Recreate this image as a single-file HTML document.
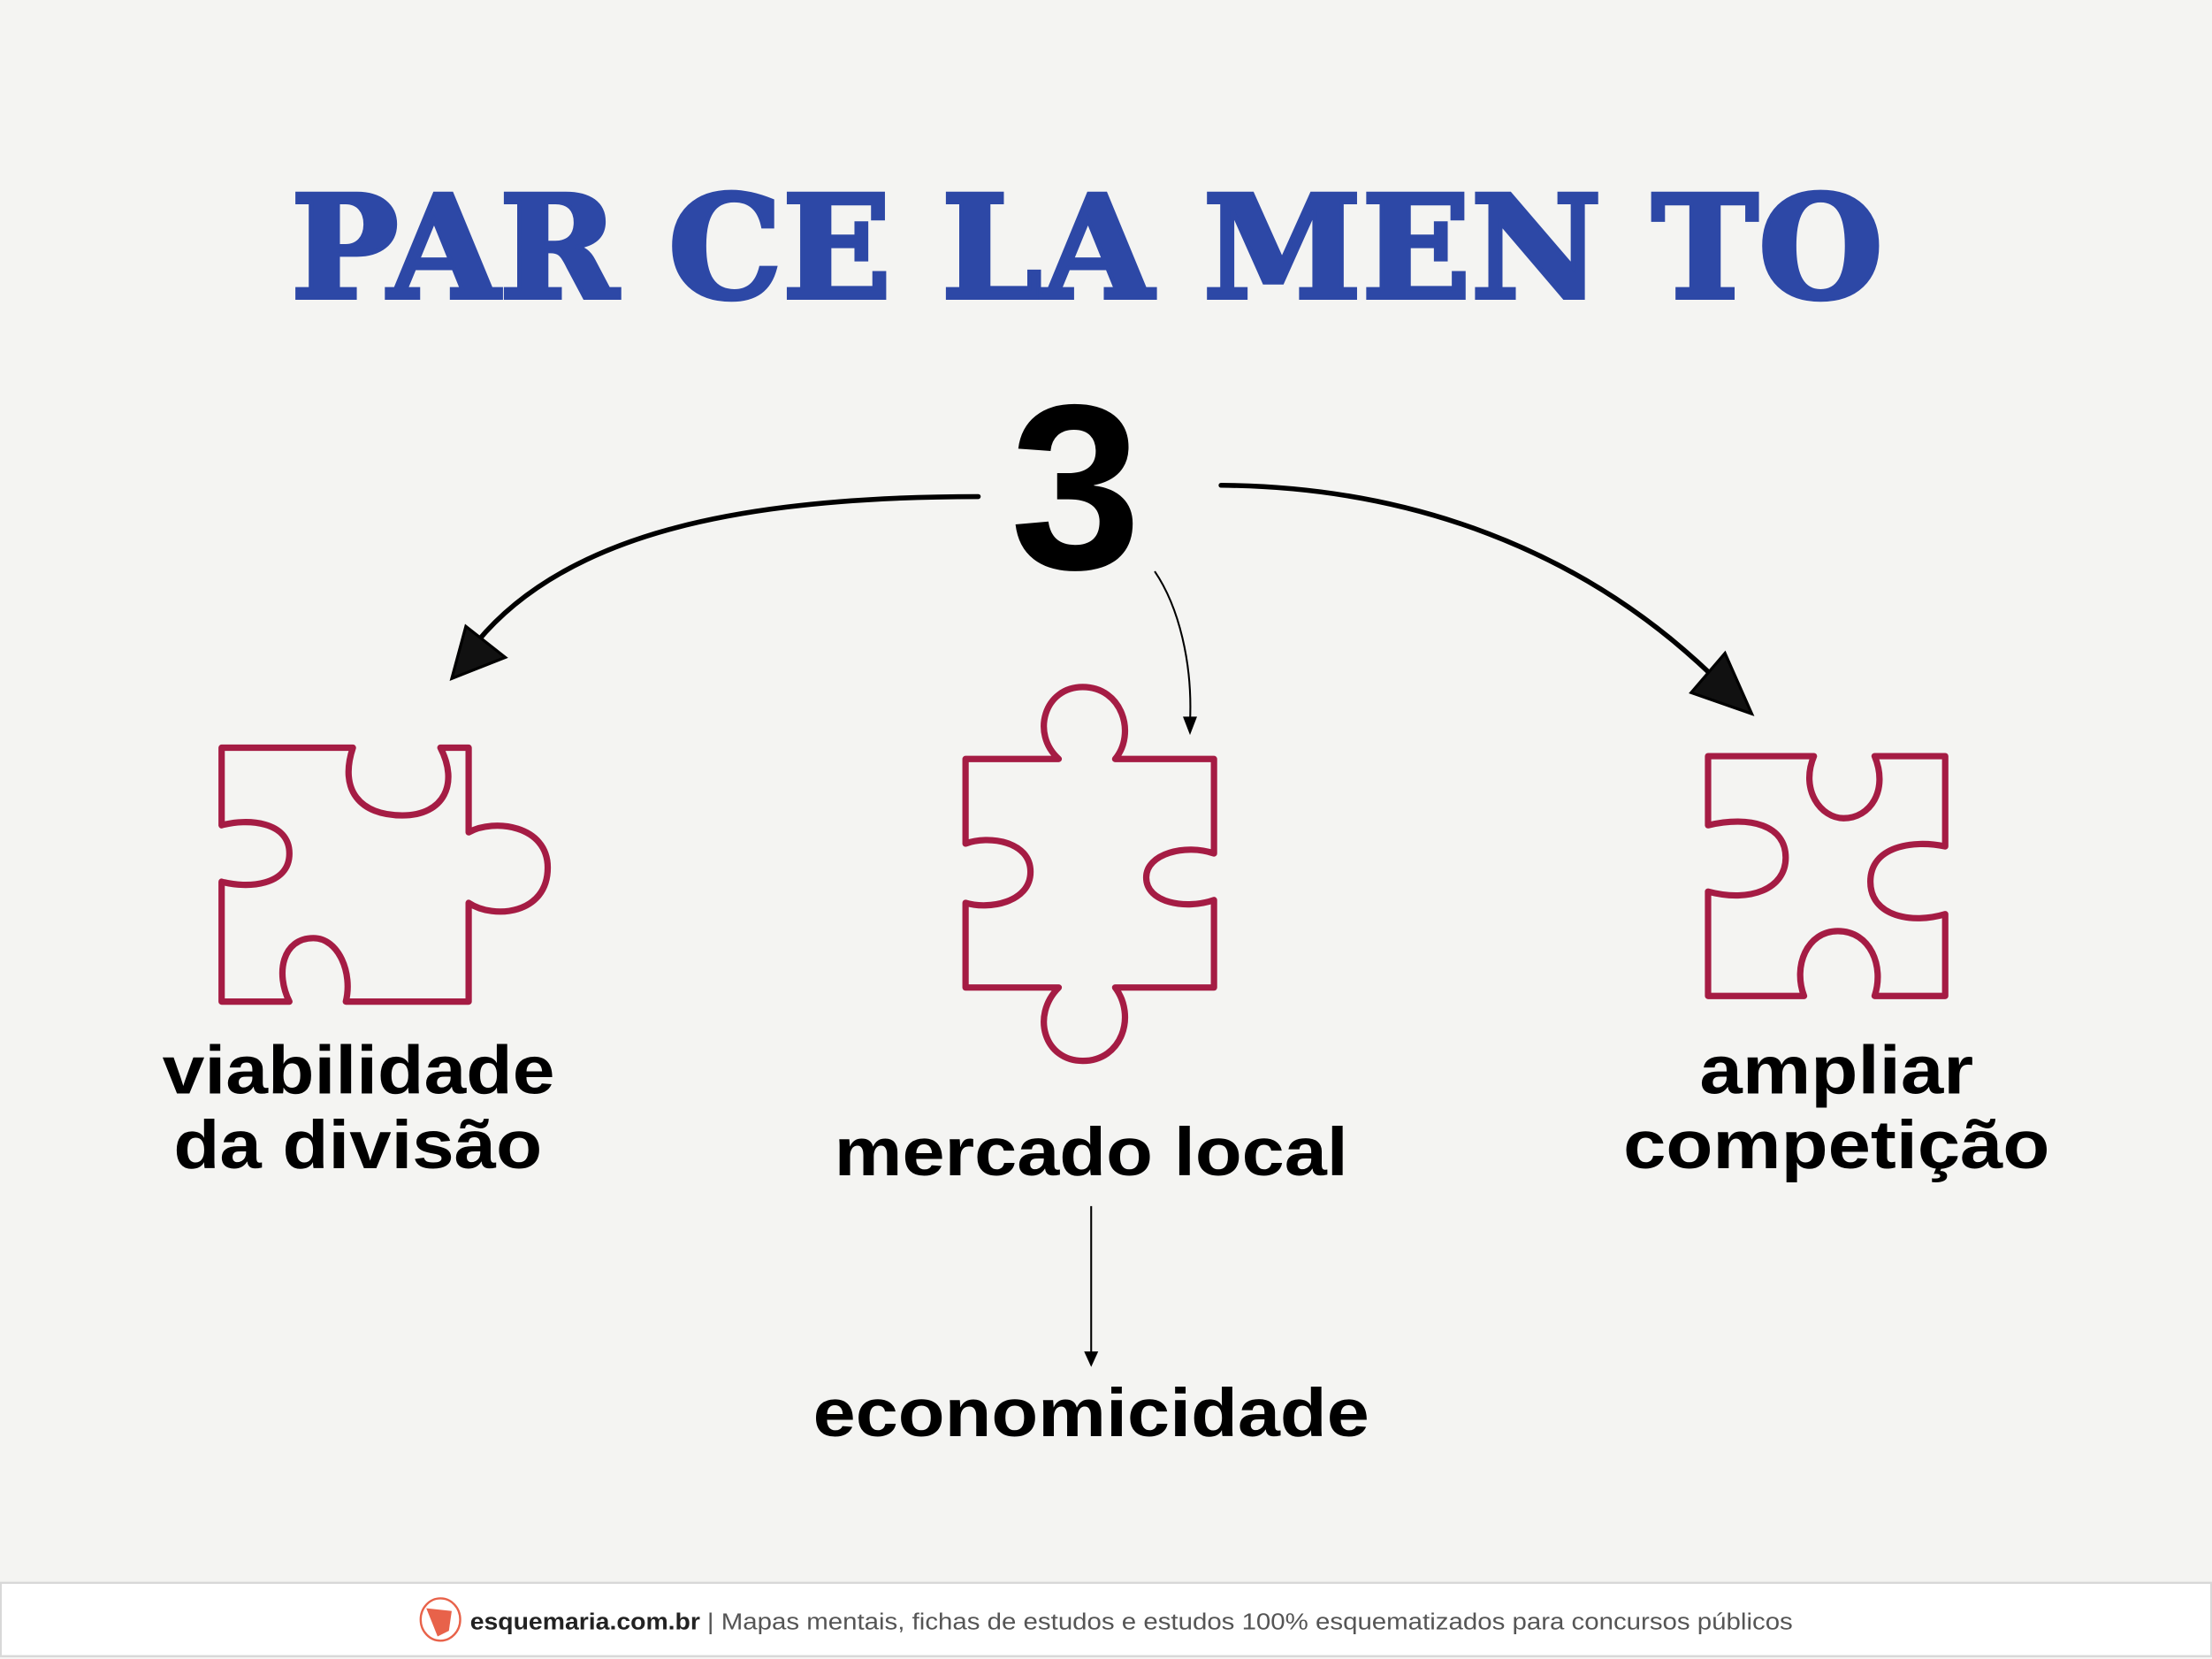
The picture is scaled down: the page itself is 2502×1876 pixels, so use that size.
<!DOCTYPE html>
<html><head><meta charset="utf-8"><style>
html,body{margin:0;padding:0;background:#f4f4f2;}
svg{display:block}
</style></head><body>
<svg width="2502" height="1876" viewBox="0 0 1567 1176" preserveAspectRatio="none" xmlns="http://www.w3.org/2000/svg">
<rect width="1567" height="1176" fill="#f4f4f2"/>
<text x="206" y="211" font-family="DejaVu Serif, Liberation Serif, serif" font-weight="bold" font-size="101" fill="#2d48a6" stroke="#2d48a6" stroke-width="3" textLength="1128" lengthAdjust="spacingAndGlyphs">PAR CE LA MEN TO</text>
<text x="762" y="403" text-anchor="middle" font-family="Liberation Sans, sans-serif" font-weight="bold" font-size="167" fill="#000">3</text>
<g fill="none" stroke="#000" stroke-width="3.5" stroke-linecap="round">
<path d="M693,352 C 520,352 400,380 338,455"/>
<path d="M865,344 C 1000,345 1120,390 1212,478"/>
</g>
<path d="M818,405 C 835,430 845,470 843,512" fill="none" stroke="#000" stroke-width="1.3"/>
<polygon points="838,508 848,508 843,521" fill="#000"/>
<polygon points="320,481 330,444 358,466" fill="#111" stroke="#000" stroke-width="2"/>
<polygon points="1241,506 1198,491 1222,463" fill="#111" stroke="#000" stroke-width="2"/>
<g fill="none" stroke="#a51c44" stroke-width="4.5" stroke-linejoin="round">
<path d="M157,530 L250,530 C 240,560 255,578 285,578 C 315,578 325,555 312,530 L332,530 L332,590 C 350,580 388,585 388,615 C 388,648 350,652 332,640 L332,710 L245,710 C 250,690 240,665 222,665 C 200,665 195,690 205,710 L157,710 L157,625 C 175,630 205,628 205,605 C 205,582 175,580 157,585 Z"/>
<path d="M684,538 L750,538 C 730,520 740,487 767,487 C 795,487 805,520 790,538 L860,538 L860,605 C 840,598 812,605 812,622 C 812,640 840,645 860,638 L860,700 L790,700 C 805,720 795,752 767,752 C 740,752 730,720 750,700 L684,700 L684,640 C 700,645 730,640 730,618 C 730,596 700,592 684,598 Z"/>
<path d="M1210,536 L1285,536 C 1275,560 1290,580 1306,580 C 1325,580 1338,560 1328,536 L1378,536 L1378,600 C 1355,595 1325,600 1325,625 C 1325,650 1355,655 1378,648 L1378,706 L1328,706 C 1335,685 1325,660 1302,660 C 1280,660 1270,685 1278,706 L1210,706 L1210,632 C 1240,640 1265,630 1265,608 C 1265,585 1240,578 1210,585 Z"/>
</g>
<g font-family="Liberation Sans, sans-serif" font-weight="bold" font-size="48" fill="#000">
<text x="115" y="775" textLength="278" lengthAdjust="spacingAndGlyphs">viabilidade</text>
<text x="123" y="828" textLength="261" lengthAdjust="spacingAndGlyphs">da divisão</text>
<text x="591" y="833" textLength="364" lengthAdjust="spacingAndGlyphs">mercado local</text>
<text x="576" y="1018" textLength="394" lengthAdjust="spacingAndGlyphs">economicidade</text>
<text x="1204" y="775" textLength="194" lengthAdjust="spacingAndGlyphs">ampliar</text>
<text x="1150" y="828" textLength="302" lengthAdjust="spacingAndGlyphs">competição</text>
</g>
<line x1="773" y1="855" x2="773" y2="960" stroke="#000" stroke-width="1.3"/>
<polygon points="768,958 778,958 773,969" fill="#000"/>
<rect x="0.5" y="1122" width="1566" height="52" fill="#fff" stroke="#d8d8d8" stroke-width="1.5"/>
<ellipse cx="312" cy="1148" rx="14" ry="15" fill="#fff" stroke="#e8624a" stroke-width="1.5"/>
<path d="M302,1140 L320,1142 L318,1156 L310,1160 L306,1150 Z" fill="#e8624a"/>
<text x="333" y="1155" font-family="Liberation Sans, sans-serif" font-weight="bold" font-size="16" fill="#222" textLength="163" lengthAdjust="spacingAndGlyphs">esquemaria.com.br</text>
<text x="501" y="1155" font-family="Liberation Sans, sans-serif" font-size="16" fill="#555" textLength="769" lengthAdjust="spacingAndGlyphs">| Mapas mentais, fichas de estudos e estudos 100% esquematizados para concursos públicos</text>
</svg>
</body></html>
